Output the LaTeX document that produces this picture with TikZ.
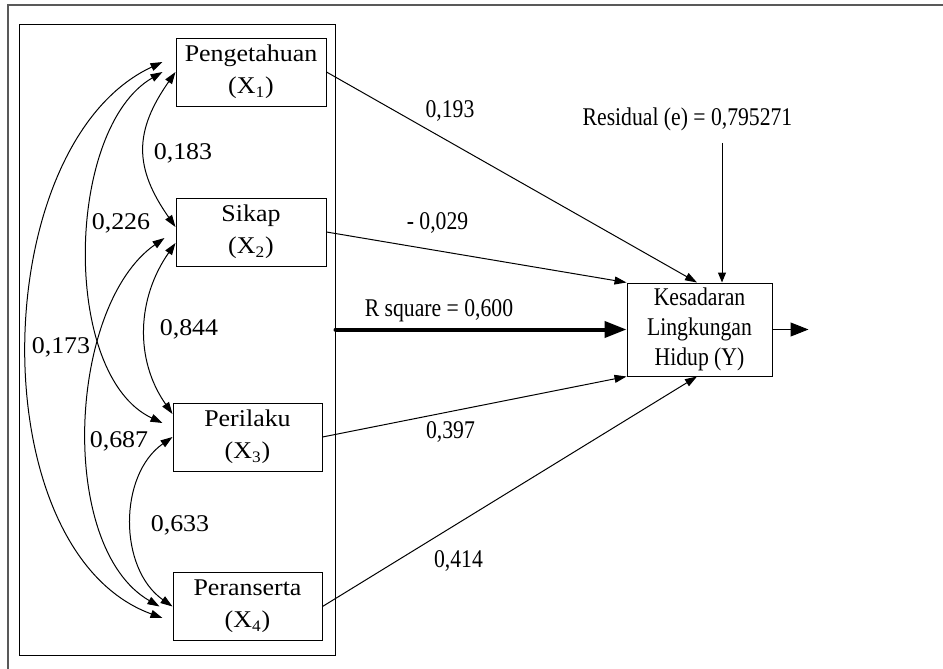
\documentclass[tikz,border=0pt]{standalone}
\usepackage{fontspec}
\setmainfont{Liberation Serif}
\newfontfamily\wideserif[FakeStretch=1.08]{Liberation Serif}
\newfontfamily\narrowserif[FakeStretch=0.85]{Liberation Serif}
\usetikzlibrary{arrows.meta}
\newcommand{\Xvar}[1]{(X\textsubscript{#1})}

\begin{document}
\begin{tikzpicture}[x=0.5pt, y=0.5pt,
  var/.style={draw, line width=0.5pt, inner sep=0pt, align=center,
              font=\wideserif\fontsize{12}{16}\selectfont,
              minimum width=75pt, minimum height=34pt},
  dep/.style={draw, line width=0.5pt, inner sep=0pt, align=center,
              font=\narrowserif\fontsize{12.75}{15}\selectfont,
              minimum width=72.5pt, minimum height=46.5pt},
  lab/.style={inner sep=0pt, font=\narrowserif\fontsize{12.75}{14}\selectfont},
  clab/.style={inner sep=0pt, font=\wideserif\fontsize{12}{14}\selectfont},
  arr/.style={-{Triangle[length=6pt,width=4pt]}, line width=0.5pt},
  corr/.style={{Triangle[length=6pt,width=4pt]}-{Triangle[length=6pt,width=4pt]}, line width=0.5pt}]
\useasboundingbox (0,0) rectangle (943,-669);
\draw[gray!70!black, line width=1pt] (8,-669) -- (8,-5) -- (943,-5);
\node[draw, line width=0.5pt, minimum width=158pt, minimum height=315.5pt] (frame) at (177,-339.5) {};
\node[var] (x1) at (251,-72)    {Pengetahuan\\\Xvar{1}};
\node[var] (x2) at (251,-232)   {Sikap\\\Xvar{2}};
\node[var, minimum width=74.5pt] (x3) at (247.5,-437)   {Perilaku\\\Xvar{3}};
\node[var, minimum width=74.5pt] (x4) at (247.5,-606.5) {Peranserta\\\Xvar{4}};
\node[dep] (y) at (699.5,-329.5) {Kesadaran\\Lingkungan\\Hidup (Y)};
\draw[corr] (x1.west) to[out=235,in=125,looseness=1.2] ([yshift=2.5pt]x2.west);
\draw[corr] ([yshift=-5.5pt]x2.west) to[out=235,in=125] ([yshift=11.5pt]x3.west);
\draw[corr] (x3.west) to[out=215,in=145] (x4.west);
\draw[corr] ([xshift=-6.5pt]x1.west) to[out=210,in=155,looseness=0.82] ([xshift=-5pt,yshift=7pt]x3.west);
\draw[corr] ([xshift=-5.5pt,yshift=-3pt]x2.west) to[out=215,in=150,looseness=0.82] ([xshift=-6.5pt]x4.west);
\draw[corr] ([xshift=-6.5pt,yshift=5pt]x1.west) to[out=205,in=160,looseness=0.9] ([xshift=-5pt,yshift=-5.75pt]x4.west);
\node[clab] (r12) at (183,-153) {0,183};
\node[clab] (r13) at (121,-223) {0,226};
\node[clab] (r14) at (61,-347)  {0,173};
\node[clab] (r23) at (189,-329) {0,844};
\node[clab] (r24) at (119,-441) {0,687};
\node[clab] (r34) at (180,-525) {0,633};
\draw[arr] (x1.east) -- ([xshift=-1.25pt]y.north);
\draw[arr] (x2.east) -- (y.north west);
\draw[arr] (x3.east) -- (y.south west);
\draw[arr] (x4.east) -- ([xshift=-1.25pt]y.south);
\node[lab] (p1) at (450,-111)   {0,193};
\node[lab] (p2) at (437.5,-223) {- 0,029};
\node[lab] (p3) at (450.5,-432) {0,397};
\node[lab] (p4) at (458.5,-561) {0,414};
\draw[line width=2pt, line cap=round, -{Triangle[length=11pt,width=8pt]}] (frame.east |- y.west) -- (y.west);
\node[lab] (rsq) at (439,-311) {R square = 0,600};
\node[lab] (res) at (687.5,-119) {Residual (e) = 0,795271};
\coordinate (yin) at ([xshift=11.25pt]y.north);
\coordinate (rbot) at ([yshift=-6pt]res.south);
\draw[-{Triangle[length=5pt,width=4pt]}, line width=0.5pt] (rbot -| yin) -- (yin);
\coordinate (yout) at ([xshift=18pt]y.east);
\draw[-{Triangle[length=9pt,width=7pt]}, line width=0.5pt] (y.east) -- (yout);
\end{tikzpicture}
\end{document}
